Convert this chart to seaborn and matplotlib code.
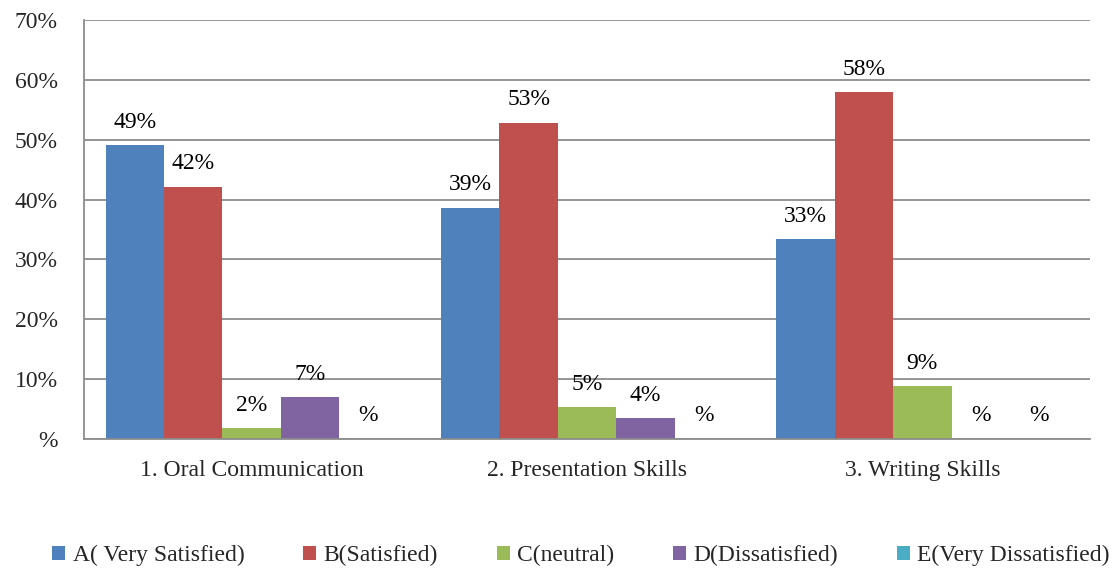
import pandas as pd
import matplotlib.pyplot as plt
import seaborn as sns

skills = ['1. Oral Communication', '2. Presentation Skills', '3. Writing Skills']
responses = ['A( Very Satisfied)', 'B(Satisfied)', 'C(neutral)', 'D(Dissatisfied)', 'E(Very Dissatisfied)']
very_satisfied = [49.1, 38.6, 33.4]
satisfied = [42.1, 52.8, 57.9]
neutral = [1.8, 5.3, 8.8]
dissatisfied = [7.0, 3.5, 0.0]
very_dissatisfied = [0.0, 0.0, 0.0]
y_ticks = [0, 10, 20, 30, 40, 50, 60, 70]
y_tick_labels = ['%', '10%', '20%', '30%', '40%', '50%', '60%', '70%']
colors = ['#4F81BD', '#C0504D', '#9BBB59', '#8064A2', '#4BACC6']

df = pd.DataFrame({'Skill': skills})
for name, vals in zip(responses, [very_satisfied, satisfied, neutral, dissatisfied, very_dissatisfied]):
    df[name] = vals
df_melted = df.melt(id_vars='Skill', var_name='Response', value_name='Percent')

sns.set_theme(style='white')
plt.rcParams['font.family'] = ['Liberation Serif', 'DejaVu Serif']

fig = plt.figure(figsize=(11.15, 5.71), dpi=100)
ax = fig.add_axes([0.0753, 0.2312, 0.9023, 0.7338])
sns.barplot(data=df_melted, x='Skill', y='Percent', hue='Response', order=skills,
            hue_order=responses, palette=colors, width=0.87, saturation=1,
            linewidth=0, ax=ax)

for container in ax.containers:
    labels = [f'{round(v):d}%' if round(v) > 0 else '%' for v in container.datavalues]
    ax.bar_label(container, labels=labels, padding=9, fontsize=17, color='black')

ax.set_ylim(0, 70)
ax.set_yticks(y_ticks)
ax.set_yticklabels(y_tick_labels, fontsize=17)
ax.tick_params(axis='x', labelsize=17, length=0, pad=15)
ax.tick_params(axis='y', length=0, pad=19)
ax.yaxis.grid(True, color='#8C8C8C', linewidth=1.3)
ax.set_axisbelow(True)
ax.set_xlabel('')
ax.set_ylabel('')
for s in ['top', 'right']:
    ax.spines[s].set_visible(False)
for s in ['left', 'bottom']:
    ax.spines[s].set_color('#8C8C8C')
    ax.spines[s].set_linewidth(1.3)

handles, labels = ax.get_legend_handles_labels()
ax.legend_.remove()
fig.legend(handles, labels, loc='center', bbox_to_anchor=(0.521, 0.027), ncol=5,
           frameon=False, fontsize=17, handlelength=0.55, handleheight=0.55,
           handletextpad=0.3, columnspacing=2.5)

plt.savefig('out.png', dpi=100)
